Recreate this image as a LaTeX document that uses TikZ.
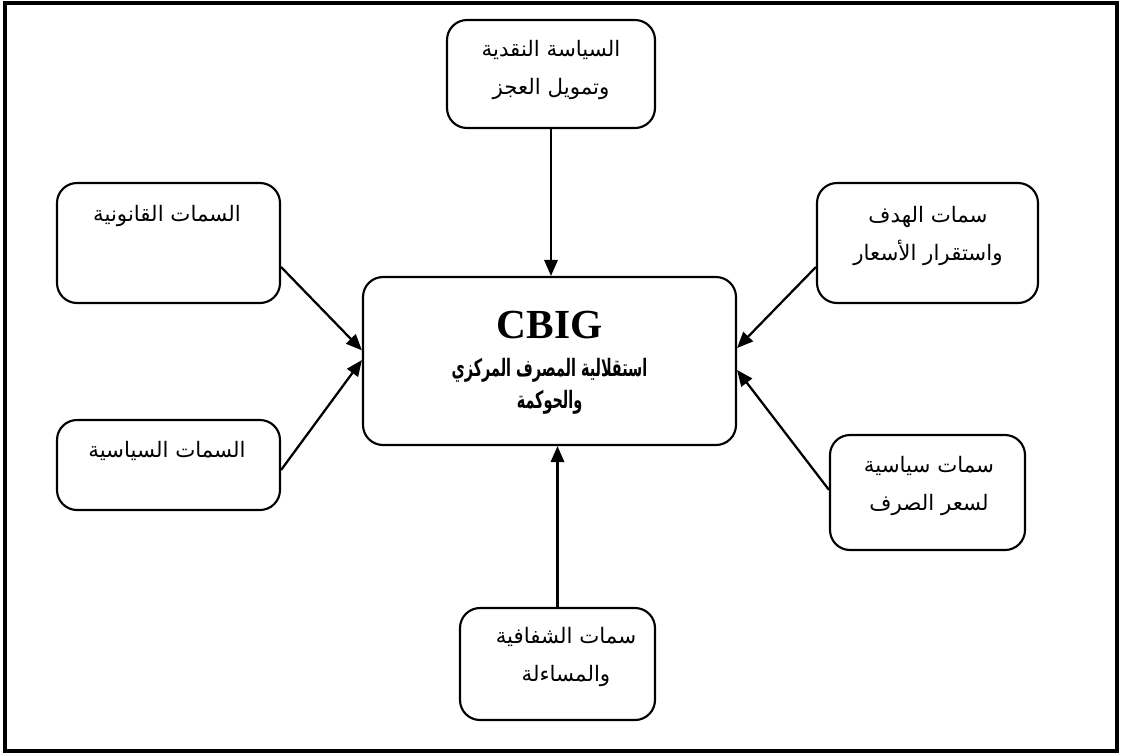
\documentclass[tikz,border=0pt]{standalone}
\usepackage{fontspec}
\usetikzlibrary{arrows.meta}
\TeXXeTstate=1
\setmainfont{Liberation Serif}
\newfontfamily\arabicfont[Script=Arabic]{DejaVu Sans}
\newfontfamily\arabicnarrow[Script=Arabic,FakeStretch=0.6]{DejaVu Sans}
\newcommand\rtl[1]{\beginR#1\endR}

\begin{document}
\begin{tikzpicture}[x=0.75pt,y=-0.75pt,
  box/.style={draw,line width=1.6pt,rounded corners=15pt,inner sep=0pt},
  boxtext/.style={align=center,font=\arabicfont\fontsize{16}{28}\selectfont,inner sep=0pt},
  link/.style={line width=1.7pt,-{Triangle[length=12pt,width=10pt]}}]
  % page and frame
  \useasboundingbox (0,0) rectangle (1121,754);
  \draw[line width=3pt] (4.5,3) rectangle (1116.5,751);

  % central box
  \node[box,minimum width=279.75pt,minimum height=126pt] (core) at (549.5,361) {};
  \node[inner sep=0pt,font=\bfseries\fontsize{31}{31}\selectfont] (coreTitle) at (549.5,325) {CBIG};
  \node[inner sep=0pt,align=center,font=\arabicnarrow\bfseries\fontsize{18}{24}\selectfont] (coreText) at (549.5,386)
    {\rtl{استقلالية المصرف المركزي}\\\rtl{والحوكمة}};

  % surrounding boxes
  \node[box,minimum width=156pt,minimum height=81pt] (monetary) at (551,74) {};
  \node[boxtext] (monetaryText) at (551,70) {\rtl{السياسة النقدية}\\\rtl{وتمويل العجز}};

  \node[box,minimum width=167.25pt,minimum height=90pt] (legal) at (168.5,243) {};
  \node[boxtext] (legalText) at (167,216) {\rtl{السمات القانونية}};

  \node[box,minimum width=167.25pt,minimum height=67.5pt] (political) at (168.5,465) {};
  \node[boxtext] (politicalText) at (167,451) {\rtl{السمات السياسية}};

  \node[box,minimum width=165.75pt,minimum height=90pt] (target) at (927.5,243) {};
  \node[boxtext] (targetText) at (928,236) {\rtl{سمات الهدف}\\\rtl{واستقرار الأسعار}};

  \node[box,minimum width=146.25pt,minimum height=86.25pt] (exchange) at (927.5,492.5) {};
  \node[boxtext] (exchangeText) at (929,486) {\rtl{سمات سياسية}\\\rtl{لسعر الصرف}};

  \node[box,minimum width=146.25pt,minimum height=84pt] (transparency) at (557.5,664) {};
  \node[boxtext] (transparencyText) at (566,657) {\rtl{سمات الشفافية}\\\rtl{والمساءلة}};

  % connectors into the central box
  \draw[link] (monetary.south) -- (monetary.south |- core.north);
  \draw[link] (transparency.north) -- (transparency.north |- core.south);
  \draw[link] ([yshift=-18pt]legal.east) -- ([yshift=8pt]core.west);
  \draw[link] ([yshift=-3.75pt]political.east) -- ([yshift=0.75pt]core.west);
  \draw[link] ([yshift=-18pt]target.west) -- ([yshift=9.75pt]core.east);
  \draw[link] ([yshift=2pt]exchange.west) -- ([yshift=-6.75pt]core.east);
\end{tikzpicture}
\end{document}
